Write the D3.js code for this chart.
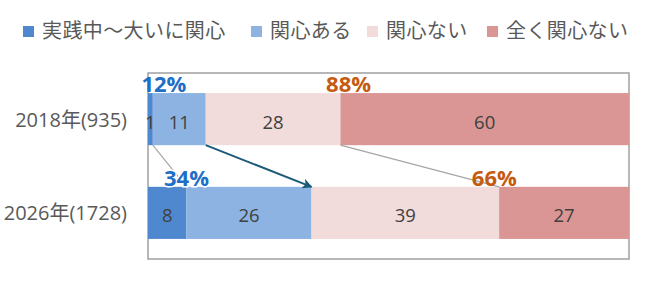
<!DOCTYPE html>
<html>
<head>
<meta charset="utf-8">
<script src="https://cdn.jsdelivr.net/npm/d3@7"></script>
<style>
  body { margin: 0; background: #fff; }
  svg text { font-family: "Open Sans", "Noto Sans CJK JP", sans-serif; }
</style>
</head>
<body>
<svg id="chart" width="659" height="283"></svg>
<script>
// Data
const years = ["2018年(935)", "2026年(1728)"];
const seriesNames = ["実践中～大いに関心", "関心ある", "関心ない", "全く関心ない"];
const seriesColors = ["#5088d0", "#8db3e2", "#f2dcdb", "#d99694"];
const values2018 = [1, 11, 28, 60];
const values2026 = [8, 26, 39, 27];
const rows = [values2018, values2026];

// Position of the summary labels along the x axis (percent units)
const interestLabelAt = [3.3, 8];      // blue labels: first two series summed
const noInterestLabelAt = [41.7, 72];  // orange labels: last two series summed

const svg = d3.select("#chart");
const plotLeft = 148, plotRight = 629, plotTop = 73, plotBottom = 259;

const x = d3.scaleLinear().domain([0, 100]).range([plotLeft, plotRight]);
const y = d3.scaleBand().domain(years).range([plotTop, plotBottom])
    .paddingInner(0.444).paddingOuter(0.214);

// Frame
svg.append("rect")
    .attr("x", plotLeft).attr("y", plotTop)
    .attr("width", plotRight - plotLeft).attr("height", plotBottom - plotTop)
    .attr("fill", "none").attr("stroke", "#a0a0a0").attr("stroke-width", 1.5);

// Stacked segments
const stacked = rows.map((vals, i) => {
    let acc = 0;
    return vals.map((v, j) => {
        const seg = { year: years[i], series: j, value: v, x0: acc, x1: acc + v };
        acc += v;
        return seg;
    });
});

const bars = svg.append("g").selectAll("g")
    .data(stacked)
    .enter().append("g");

bars.selectAll("rect")
    .data(d => d)
    .enter().append("rect")
    .attr("x", d => x(d.x0))
    .attr("y", d => y(d.year))
    .attr("width", d => x(d.x1) - x(d.x0))
    .attr("height", y.bandwidth())
    .attr("fill", d => seriesColors[d.series]);

bars.selectAll("text")
    .data(d => d)
    .enter().append("text")
    .attr("x", d => (x(d.x0) + x(d.x1)) / 2)
    .attr("y", d => y(d.year) + y.bandwidth() / 2 + 2)
    .attr("text-anchor", "middle")
    .attr("dominant-baseline", "central")
    .attr("font-size", 18.5)
    .attr("fill", "#404040")
    .text(d => d.value);

// Series lines between the two bars
const defs = svg.append("defs");
defs.append("marker")
    .attr("id", "arrow")
    .attr("viewBox", "0 0 10 10")
    .attr("refX", 9).attr("refY", 5)
    .attr("markerWidth", 13).attr("markerHeight", 10)
    .attr("markerUnits", "userSpaceOnUse")
    .attr("orient", "auto")
    .append("path")
    .attr("d", "M0,0 L10,5 L0,10 L2.5,5 Z")
    .attr("fill", "#1b5a78");

[0, 1, 2].forEach(j => {
    const isArrow = j === 1;
    svg.append("line")
        .attr("x1", x(stacked[0][j].x1))
        .attr("y1", y(years[0]) + y.bandwidth())
        .attr("x2", x(stacked[1][j].x1))
        .attr("y2", y(years[1]))
        .attr("stroke", isArrow ? "#1b5a78" : "#a6a6a6")
        .attr("stroke-width", isArrow ? 2 : 1.2)
        .attr("marker-end", isArrow ? "url(#arrow)" : null);
});

// Summary labels
rows.forEach((vals, i) => {
    const yy = y(years[i]) - 1;
    svg.append("text")
        .attr("x", x(interestLabelAt[i]))
        .attr("y", yy)
        .attr("text-anchor", "middle")
        .attr("font-size", 22).attr("font-weight", "bold")
        .attr("fill", "#1f6fc6")
        .attr("stroke", "#fff").attr("stroke-width", i === 1 ? 3 : 0)
        .attr("paint-order", "stroke")
        .text((vals[0] + vals[1]) + "%");
    svg.append("text")
        .attr("x", x(noInterestLabelAt[i]))
        .attr("y", yy)
        .attr("text-anchor", "middle")
        .attr("font-size", 22).attr("font-weight", "bold")
        .attr("fill", "#c55a11")
        .text((vals[2] + vals[3]) + "%");
});

// Category labels
svg.append("g").selectAll("text")
    .data(years)
    .enter().append("text")
    .attr("x", 127)
    .attr("y", d => y(d) + y.bandwidth() / 2)
    .attr("text-anchor", "end")
    .attr("dominant-baseline", "central")
    .attr("font-size", 20)
    .attr("fill", "#595959")
    .text(d => d);

// Legend
const legendX = [42, 270, 386, 506];
const legend = svg.append("g").selectAll("g")
    .data(seriesNames)
    .enter().append("g")
    .attr("transform", (d, i) => `translate(${legendX[i]},30)`);

legend.append("rect")
    .attr("x", -19).attr("y", -4)
    .attr("width", 11).attr("height", 11)
    .attr("fill", (d, i) => seriesColors[i]);

legend.append("text")
    .attr("x", 0).attr("y", 0)
    .attr("dominant-baseline", "central")
    .attr("font-size", 20)
    .attr("letter-spacing", 0.4)
    .attr("fill", "#595959")
    .text(d => d);
</script>
</body>
</html>
